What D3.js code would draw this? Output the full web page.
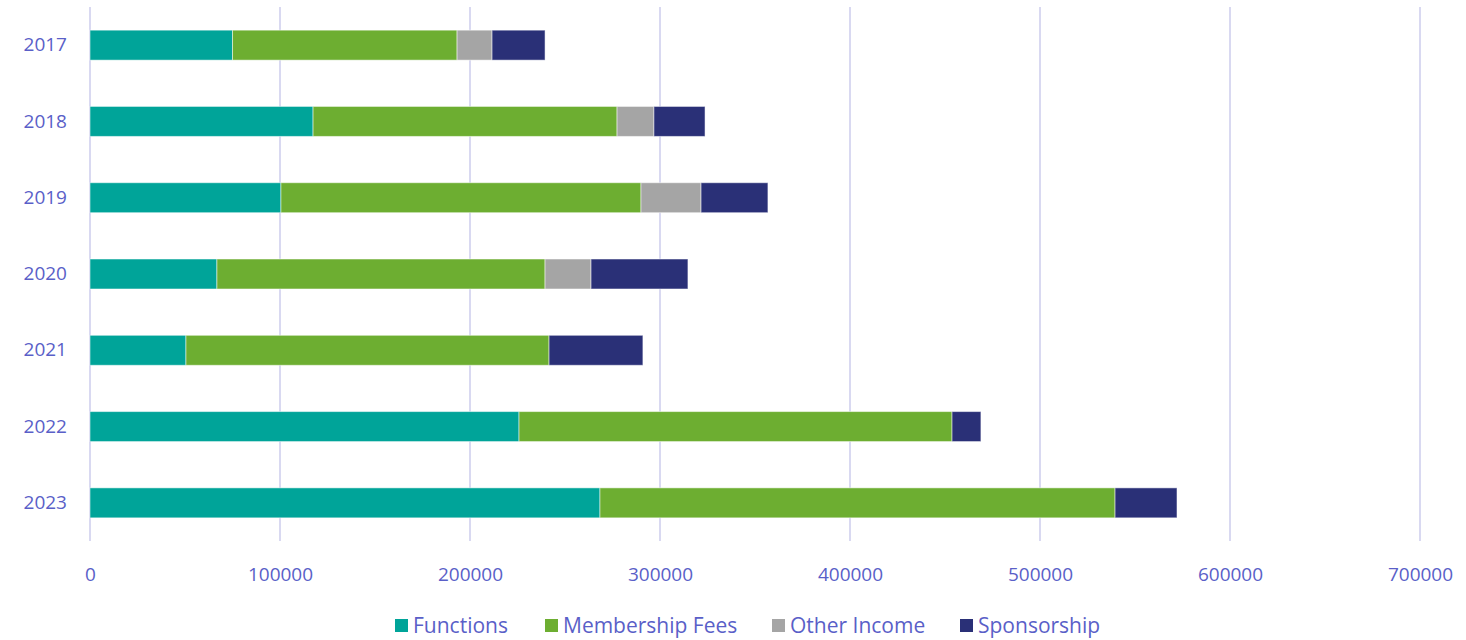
<!DOCTYPE html>
<html><head><meta charset="utf-8">
<script src="https://cdn.jsdelivr.net/npm/d3@7"></script>
<style>body{margin:0;background:#fff;} text{font-family:"Open Sans",Lato,sans-serif;}</style>
</head><body><svg id="c" width="1466" height="640"></svg>
<script>
const years = ["2017","2018","2019","2020","2021","2022","2023"];
const seriesNames = ["Functions","Membership Fees","Other Income","Sponsorship"];
const functions = [75000,117400,100500,66800,50500,225800,268400];
const membership = [118200,160000,189500,172700,191100,227900,271100];
const otherIncome = [18400,19400,31600,24200,0,0,0];
const sponsorship = [27900,26900,35200,51000,49400,15200,32600];
const xTicks = [0,100000,200000,300000,400000,500000,600000,700000];
const colors = ["#00a499","#6dae31","#a5a5a5","#2a3077"];

const svg = d3.select("#c");
const txt = "#5a5fc8";
const x = d3.scaleLinear().domain([0,700000]).range([90,1420]);
const y = d3.scaleBand().domain(years).range([7,541]).paddingInner(0.607).paddingOuter(0.3035);

// grid
svg.append("g").selectAll("line").data(xTicks).join("line")
  .attr("x1",d=>x(d)).attr("x2",d=>x(d)).attr("y1",7).attr("y2",541)
  .attr("stroke","#d9d9f1").attr("stroke-width",2);

const rows = years.map((yr,i)=>({year:yr, Functions:functions[i], "Membership Fees":membership[i], "Other Income":otherIncome[i], Sponsorship:sponsorship[i]}));
const stack = d3.stack().keys(seriesNames)(rows);
svg.append("g").selectAll("g").data(stack).join("g").attr("fill",(d,i)=>colors[i])
  .selectAll("rect").data(d=>d.filter(p=>p[1]>p[0])).join("rect")
  .attr("x",d=>x(d[0])).attr("width",d=>x(d[1])-x(d[0]))
  .attr("y",d=>y(d.data.year)).attr("height",y.bandwidth())
  .attr("stroke","#ffffff").attr("stroke-opacity",0.5).attr("stroke-width",1);

// x axis labels
const xa = svg.append("g").attr("transform","translate(0,541)")
  .call(d3.axisBottom(x).tickValues(xTicks).tickFormat(d3.format("d")).tickSize(0).tickPadding(27));
xa.select(".domain").remove();
xa.selectAll("text").attr("fill",txt).attr("font-size",19).attr("font-family","'Open Sans',sans-serif");

// y axis labels
const ya = svg.append("g").attr("transform","translate(67,0)")
  .call(d3.axisLeft(y).tickSize(0).tickPadding(0));
ya.select(".domain").remove();
ya.selectAll("text").attr("fill",txt).attr("font-size",19).attr("font-family","'Open Sans',sans-serif");

// legend
const legX = [395,545,772,960];
const lg = svg.append("g").selectAll("g").data(seriesNames).join("g")
  .attr("transform",(d,i)=>`translate(${legX[i]},626)`);
lg.append("rect").attr("x",0).attr("y",-7).attr("width",13).attr("height",13).attr("fill",(d,i)=>colors[i]);
lg.append("text").attr("x",18).attr("y",0).attr("dy","0.35em").attr("fill",txt).attr("font-size",21)
  .text(d=>d);
</script></body></html>
